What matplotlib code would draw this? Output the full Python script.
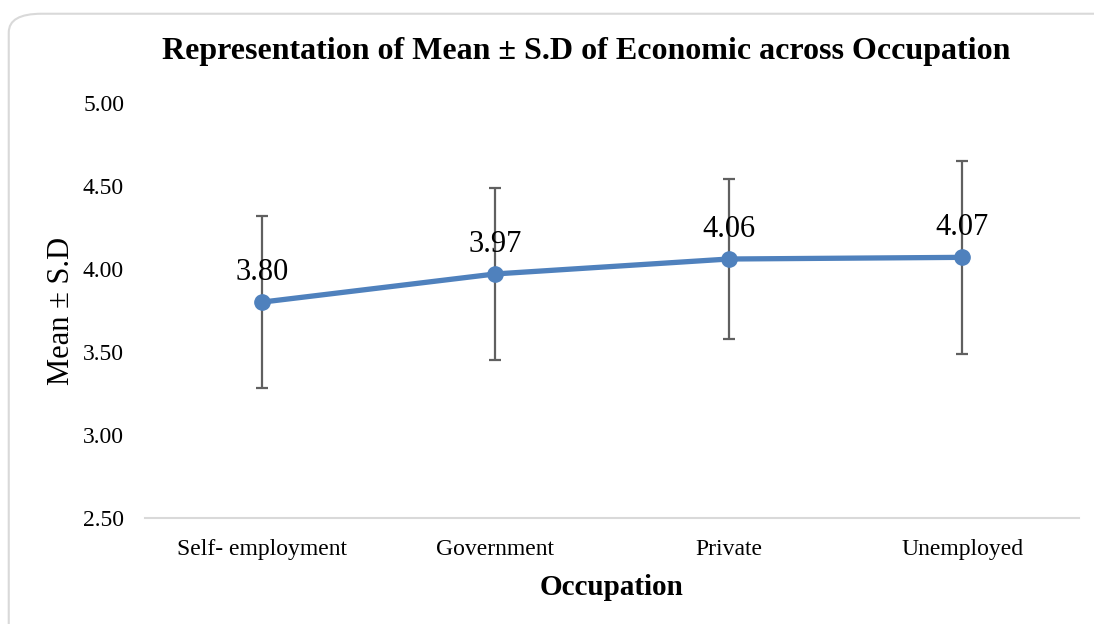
import matplotlib.pyplot as plt
from matplotlib.patches import FancyBboxPatch

plt.rcParams['font.family'] = ['Liberation Serif', 'DejaVu Serif']

occupations = ['Self- employment', 'Government', 'Private', 'Unemployed']
means = [3.80, 3.97, 4.06, 4.07]
sds = [0.52, 0.52, 0.48, 0.58]
yticks = [2.50, 3.00, 3.50, 4.00, 4.50, 5.00]

fig = plt.figure(figsize=(10.94, 6.24), dpi=100)

# rounded frame round the chart area
frame = FancyBboxPatch((0.008, -0.05), 1.05, 1.028,
                       boxstyle='round,pad=0,rounding_size=0.03',
                       transform=fig.transFigure, facecolor='white',
                       edgecolor='#d9d9d9', linewidth=1.5, zorder=-10)
fig.patches.append(frame)

ax = fig.add_axes([0.1325, 0.1699, 0.8538, 0.6651])
x = list(range(len(occupations)))

ax.errorbar(x, means, yerr=sds, fmt='none', ecolor='#606060',
            elinewidth=1.6, capsize=4.5, capthick=1.6, zorder=2)
ax.plot(x, means, color='#4F81BD', linewidth=3.8, marker='o',
        markersize=11, zorder=3)

for xi, m in zip(x, means):
    ax.annotate('%.2f' % m, (xi, m), xytext=(0, 11), textcoords='offset points',
                ha='center', va='bottom', fontsize=22)

ax.set_xlim(-0.5, len(occupations) - 0.5)
ax.set_ylim(2.5, 5.0)
ax.set_xticks(x)
ax.set_xticklabels(occupations, fontsize=17)
ax.set_yticks(yticks)
ax.set_yticklabels(['%.2f' % v for v in yticks], fontsize=17)
ax.tick_params(axis='y', length=0, pad=15)
ax.tick_params(axis='x', length=0, pad=15)

for s in ['top', 'right', 'left']:
    ax.spines[s].set_visible(False)
ax.spines['bottom'].set_color('#d9d9d9')
ax.spines['bottom'].set_linewidth(1.5)

ax.set_xlabel('Occupation', fontsize=21, fontweight='bold', labelpad=10)
ax.set_ylabel('Mean ± S.D', fontsize=22, labelpad=5)
fig.text(0.536, 0.918, 'Representation of Mean ± S.D of Economic across Occupation',
         ha='center', va='center', fontsize=23, fontweight='bold')

fig.savefig('out.png', dpi=100)
